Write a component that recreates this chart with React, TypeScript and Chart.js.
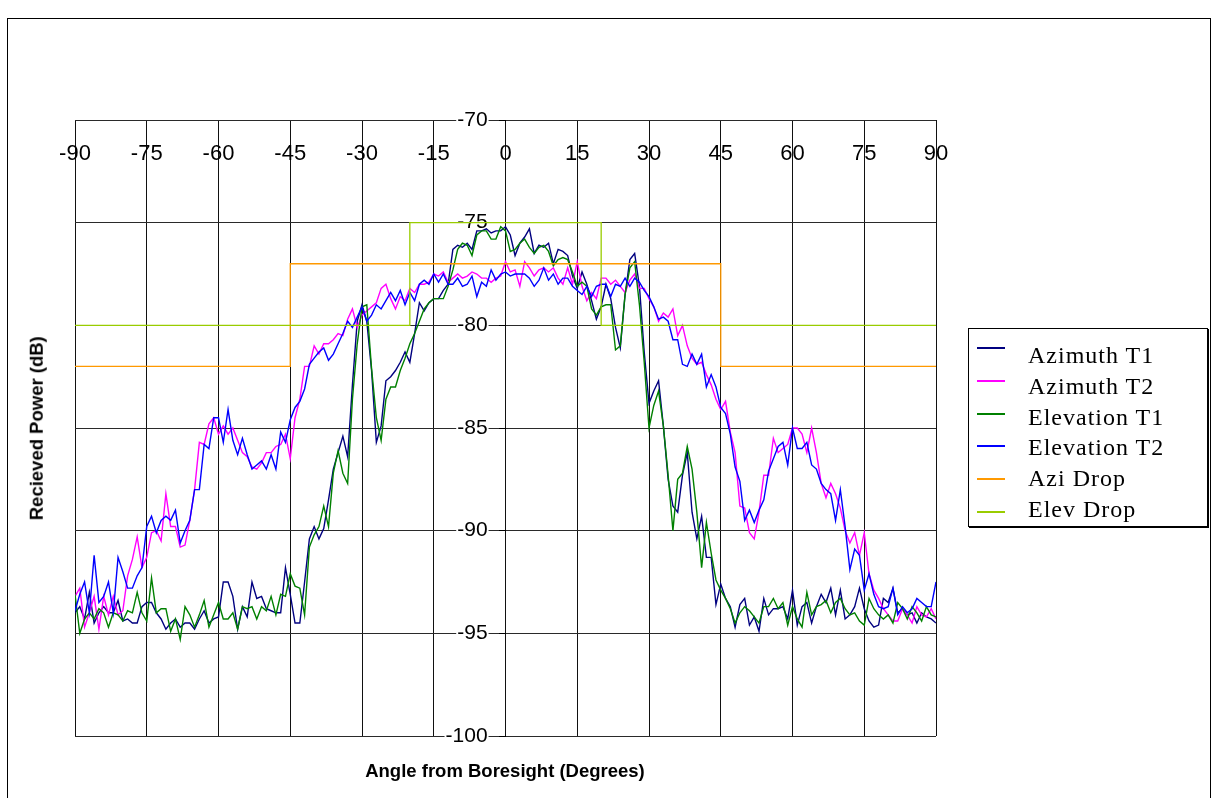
import React, { useEffect, useRef } from 'react';
import { Chart, registerables } from 'chart.js';

Chart.register(...registerables);

// Angle from boresight (degrees), 1 degree steps
const ANGLES = [
  -90, -89, -88, -87, -86, -85, -84, -83, -82, -81,
  -80, -79, -78, -77, -76, -75, -74, -73, -72, -71,
  -70, -69, -68, -67, -66, -65, -64, -63, -62, -61,
  -60, -59, -58, -57, -56, -55, -54, -53, -52, -51,
  -50, -49, -48, -47, -46, -45, -44, -43, -42, -41,
  -40, -39, -38, -37, -36, -35, -34, -33, -32, -31,
  -30, -29, -28, -27, -26, -25, -24, -23, -22, -21,
  -20, -19, -18, -17, -16, -15, -14, -13, -12, -11,
  -10, -9, -8, -7, -6, -5, -4, -3, -2, -1,
  0, 1, 2, 3, 4, 5, 6, 7, 8, 9,
  10, 11, 12, 13, 14, 15, 16, 17, 18, 19,
  20, 21, 22, 23, 24, 25, 26, 27, 28, 29,
  30, 31, 32, 33, 34, 35, 36, 37, 38, 39,
  40, 41, 42, 43, 44, 45, 46, 47, 48, 49,
  50, 51, 52, 53, 54, 55, 56, 57, 58, 59,
  60, 61, 62, 63, 64, 65, 66, 67, 68, 69,
  70, 71, 72, 73, 74, 75, 76, 77, 78, 79,
  80, 81, 82, 83, 84, 85, 86, 87, 88, 89,
  90,
];

const AZIMUTH_T1 = [
  -94.0, -93.7, -94.3, -93.0, -94.5, -94.0, -93.7, -94.0, -94.0, -93.4,
  -94.4, -94.3, -94.5, -94.5, -93.7, -93.5, -93.5, -94.0, -94.3, -94.8,
  -94.5, -94.3, -94.7, -94.5, -94.5, -94.8, -94.3, -93.9, -94.5, -94.3,
  -94.2, -92.5, -92.5, -93.2, -94.8, -93.7, -94.2, -92.5, -93.3, -93.2,
  -93.8, -93.9, -94.0, -94.0, -91.8, -93.1, -94.5, -94.5, -92.5, -90.4,
  -89.8, -90.4, -89.9, -88.5, -87.0, -86.2, -85.4, -86.4, -82.9, -79.8,
  -79.0, -79.8, -82.2, -85.7, -84.9, -82.7, -82.5, -82.2, -81.8, -81.3,
  -81.8, -80.4, -78.9, -79.3, -78.9, -78.7, -78.7, -78.3, -78.0, -76.3,
  -76.1, -76.2, -76.0, -76.3, -75.4, -75.4, -75.3, -75.5, -75.4, -75.4,
  -75.2, -75.6, -76.6, -76.0, -75.7, -75.3, -76.5, -76.1, -76.2, -76.0,
  -77.0, -76.3, -76.4, -76.6, -77.6, -78.2, -77.4, -78.0, -78.8, -79.7,
  -79.1, -78.0, -78.7, -80.1, -81.1, -78.5, -76.8, -76.5, -78.1, -81.3,
  -83.8, -83.2, -82.7, -84.9, -87.5, -88.8, -89.1, -87.3, -86.2, -89.1,
  -90.4, -89.3, -91.3, -91.3, -93.6, -92.6, -93.3, -93.7, -94.7, -93.6,
  -93.3, -94.6, -94.2, -94.9, -93.3, -94.1, -93.8, -93.8, -93.7, -94.3,
  -92.9, -94.6, -93.7, -93.5, -94.5, -93.7, -93.1, -93.5, -92.8, -94.1,
  -92.9, -94.3, -94.1, -93.7, -92.8, -93.8, -94.4, -94.7, -94.6, -93.3,
  -93.5, -92.8, -94.0, -93.8, -94.1, -94.0, -94.5, -94.0, -94.2, -94.3,
  -94.5,
];

const AZIMUTH_T2 = [
  -93.2, -92.8, -94.7, -94.0, -93.2, -94.8, -93.2, -94.1, -93.2, -94.1,
  -93.9, -92.2, -91.4, -90.3, -91.8, -91.3, -90.1, -90.0, -90.5, -88.2,
  -89.8, -89.8, -90.8, -90.7, -89.5, -88.0, -85.7, -85.8, -84.8, -84.5,
  -85.3, -84.9, -85.3, -85.0, -85.6, -86.2, -86.4, -86.9, -87.0, -86.7,
  -86.2, -86.2, -85.9, -85.8, -85.3, -86.5, -84.5, -83.6, -82.0, -82.0,
  -81.0, -81.4, -80.9, -80.9, -80.7, -80.4, -80.5, -79.7, -79.2, -80.1,
  -79.5, -79.3, -79.1, -78.9, -78.2, -78.0, -78.7, -79.2, -78.6, -78.8,
  -78.2, -78.4, -78.0, -78.0, -77.9, -77.5, -77.6, -77.4, -77.9, -77.7,
  -77.5, -77.7, -77.6, -77.4, -77.5, -77.7, -77.7, -77.9, -77.7, -77.6,
  -76.9, -77.4, -77.3, -78.1, -76.9, -77.2, -77.6, -77.3, -77.2, -77.4,
  -77.2, -77.7, -78.0, -77.2, -78.0, -76.9, -78.1, -78.8, -78.4, -78.7,
  -77.7, -77.7, -78.0, -77.8, -78.1, -78.4, -77.8, -77.5, -78.2, -78.2,
  -78.7, -79.1, -79.8, -79.4, -79.6, -79.2, -80.5, -80.0, -81.0, -81.6,
  -81.9, -81.8, -82.4, -82.9, -83.6, -84.1, -83.7, -85.2, -86.2, -88.8,
  -88.9, -90.1, -90.4, -89.1, -87.3, -87.3, -85.5, -86.2, -86.0, -85.8,
  -85.0, -85.0, -85.3, -86.2, -85.0, -86.2, -87.7, -88.4, -87.7, -88.2,
  -88.9, -90.0, -90.6, -90.1, -91.2, -90.1, -92.1, -92.9, -93.3, -93.8,
  -94.1, -94.4, -94.4, -93.8, -94.1, -94.5, -93.7, -94.1, -94.2, -93.8,
  -94.3,
];

const ELEVATION_T1 = [
  -93.1, -95.0, -94.3, -94.0, -94.3, -93.8, -94.0, -94.7, -94.0, -94.1,
  -94.4, -93.9, -94.0, -93.0, -94.0, -94.4, -92.3, -94.0, -93.8, -93.8,
  -94.9, -94.3, -95.3, -93.7, -94.1, -94.7, -94.1, -93.4, -94.7, -94.1,
  -93.5, -94.3, -94.3, -94.0, -94.8, -93.7, -93.8, -93.7, -94.3, -93.7,
  -93.9, -93.2, -94.1, -93.1, -93.2, -92.1, -92.7, -92.8, -94.1, -90.8,
  -90.2, -89.8, -88.8, -89.8, -87.2, -86.1, -87.2, -87.7, -83.6, -80.9,
  -79.1, -79.0, -82.1, -84.5, -85.6, -83.6, -83.0, -83.0, -82.2, -81.6,
  -80.9, -80.4, -79.8, -79.2, -78.9, -78.7, -78.7, -78.7, -78.1, -77.3,
  -76.3, -76.0, -76.1, -76.6, -75.6, -75.4, -75.4, -75.8, -75.8, -75.2,
  -75.4, -76.4, -76.3, -76.0, -75.8, -76.2, -76.5, -76.2, -76.1, -76.4,
  -77.1, -76.8, -76.7, -76.8, -77.4, -78.1, -77.9, -78.1, -79.2, -79.5,
  -79.1, -79.0, -79.0, -81.2, -81.0, -78.5, -77.2, -76.9, -79.0, -81.8,
  -85.0, -83.9, -83.2, -84.9, -87.3, -90.0, -87.5, -87.2, -85.9, -87.0,
  -89.1, -91.8, -89.6, -91.1, -92.4, -92.9, -93.3, -93.8, -94.5, -94.0,
  -93.7, -93.9, -94.2, -94.5, -93.7, -93.7, -93.3, -93.8, -93.5, -94.6,
  -93.7, -94.3, -94.7, -93.0, -94.1, -93.7, -93.6, -93.4, -94.0, -93.5,
  -93.3, -93.8, -94.1, -94.0, -94.4, -94.6, -93.3, -93.8, -94.1, -94.3,
  -94.1, -94.5, -93.5, -93.8, -94.3, -93.7, -94.0, -94.4, -93.7, -94.1,
  -94.2,
];

const ELEVATION_T2 = [
  -93.9, -93.1, -92.5, -94.0, -91.2, -93.5, -93.2, -92.5, -94.0, -91.3,
  -92.0, -92.8, -92.8, -92.2, -91.8, -89.8, -89.3, -90.1, -89.5, -89.3,
  -89.5, -89.0, -90.6, -90.0, -89.5, -88.0, -88.0, -85.8, -86.0, -84.5,
  -84.5, -85.7, -84.1, -85.6, -86.3, -85.5, -86.3, -87.0, -86.8, -86.6,
  -87.0, -86.3, -87.0, -85.2, -85.7, -84.6, -84.0, -83.7, -83.1, -81.9,
  -81.6, -81.3, -81.1, -81.7, -81.4, -80.9, -80.4, -79.8, -80.1, -79.6,
  -79.1, -79.8, -79.5, -79.0, -79.2, -78.8, -78.4, -78.8, -78.3, -79.0,
  -78.4, -78.8, -78.0, -77.8, -78.0, -77.5, -77.9, -77.5, -78.0, -78.0,
  -77.7, -78.1, -78.0, -77.6, -78.6, -77.9, -78.1, -77.3, -77.8, -77.5,
  -77.4, -77.6, -77.5, -77.5, -77.5, -77.7, -78.1, -77.8, -77.2, -77.8,
  -77.5, -78.0, -77.7, -77.7, -78.1, -78.3, -78.5, -78.1, -78.6, -78.1,
  -78.0, -78.0, -78.6, -78.0, -78.1, -77.7, -78.1, -77.7, -77.9, -78.3,
  -78.6, -79.1, -79.7, -79.6, -79.8, -80.7, -80.7, -81.9, -82.0, -81.4,
  -81.9, -81.4, -83.0, -82.4, -83.0, -84.0, -84.3, -85.3, -86.9, -87.6,
  -89.5, -89.0, -89.6, -89.0, -88.5, -87.1, -86.5, -85.9, -85.7, -86.8,
  -85.0, -86.0, -86.0, -85.7, -86.8, -87.0, -87.7, -88.0, -88.2, -89.5,
  -88.0, -89.8, -91.9, -90.9, -91.2, -92.9, -92.1, -93.1, -93.7, -93.8,
  -93.7, -92.8, -94.1, -93.7, -94.0, -93.8, -93.3, -93.5, -93.7, -93.7,
  -92.5,
];

const AZI_DROP_X = [-90, -45, -45, 45, 45, 90];
const AZI_DROP_Y = [-82, -82, -77, -77, -82, -82];
const ELEV_DROP_X = [-90, -20, -20, 20, 20, 90];
const ELEV_DROP_Y = [-80, -80, -75, -75, -80, -80];

const X_TICK_VALUES = [-90, -75, -60, -45, -30, -15, 0, 15, 30, 45, 60, 75, 90];
const Y_TICK_VALUES = [-100, -95, -90, -85, -80, -75, -70];

const SERIES_LABELS = ['Azimuth T1', 'Azimuth T2', 'Elevation T1', 'Elevation T2', 'Azi Drop', 'Elev Drop'];
const SERIES_COLORS = ['#000080', '#FF00FF', '#008000', '#0000FF', '#FF9900', '#99CC00'];

const X_TITLE = 'Angle from Boresight (Degrees)';
const Y_TITLE = 'Recieved Power (dB)';

const SANS = "'Liberation Sans', Arial, Helvetica, sans-serif";
const SERIF = "'Liberation Serif', 'Times New Roman', Times, serif";

export default function App() {
  const canvasRef = useRef<HTMLCanvasElement>(null);

  useEffect(() => {
    const canvas = canvasRef.current;
    if (!canvas) return;
    const toPoints = (xs: number[], ys: number[]) => xs.map((x, i) => ({ x, y: ys[i] }));
    const measured = [AZIMUTH_T1, AZIMUTH_T2, ELEVATION_T1, ELEVATION_T2];
    const datasets: any[] = measured.map((vals, i) => ({
      label: SERIES_LABELS[i],
      data: toPoints(ANGLES, vals),
      borderColor: SERIES_COLORS[i],
      backgroundColor: SERIES_COLORS[i],
      borderWidth: 1.4,
      pointRadius: 0,
      tension: 0,
      fill: false,
      order: 10 - i,
    }));
    datasets.push({
      label: SERIES_LABELS[4],
      data: toPoints(AZI_DROP_X, AZI_DROP_Y),
      borderColor: SERIES_COLORS[4],
      backgroundColor: SERIES_COLORS[4],
      borderWidth: 1.3,
      pointRadius: 0,
      tension: 0,
      fill: false,
      order: 5,
    });
    datasets.push({
      label: SERIES_LABELS[5],
      data: toPoints(ELEV_DROP_X, ELEV_DROP_Y),
      borderColor: SERIES_COLORS[5],
      backgroundColor: SERIES_COLORS[5],
      borderWidth: 1.3,
      pointRadius: 0,
      tension: 0,
      fill: false,
      order: 4,
    });

    const yTicks = (scale: any) => {
      scale.ticks = Y_TICK_VALUES.map((v) => ({ value: v }));
    };

    const chart = new Chart(canvas, {
      type: 'line',
      data: { datasets },
      options: {
        animation: false,
        responsive: false,
        devicePixelRatio: 1,
        events: [],
        layout: { padding: { left: 75, top: 120, right: 276, bottom: 62 } },
        plugins: {
          legend: { display: false },
          tooltip: { enabled: false },
          title: { display: false },
        },
        scales: {
          x: {
            type: 'linear',
            min: -90,
            max: 90,
            position: { y: -71 } as any,
            afterBuildTicks: (scale: any) => {
              scale.ticks = X_TICK_VALUES.map((v) => ({ value: v }));
            },
            ticks: {
              font: { family: SANS, size: 22 },
              color: '#000',
              padding: 0,
              maxRotation: 0,
              minRotation: 0,
              autoSkip: false,
            },
            grid: { color: '#111', lineWidth: 1, drawTicks: false },
            border: { display: false },
          },
          y: {
            type: 'linear',
            min: -100,
            max: -70,
            position: { x: -3.75 } as any,
            afterBuildTicks: yTicks,
            ticks: {
              font: { family: SANS, size: 21 },
              color: '#000',
              padding: 0,
              showLabelBackdrop: true,
              backdropColor: '#fff',
              backdropPadding: 1,
            } as any,
            grid: { color: '#2a2a2a', lineWidth: 1, drawTicks: false },
            border: { display: false },
          },
          yMarks: {
            type: 'linear',
            axis: 'y',
            min: -100,
            max: -70,
            position: { x: 0 } as any,
            afterBuildTicks: yTicks,
            ticks: { display: false },
            grid: {
              color: '#000',
              lineWidth: 1,
              drawOnChartArea: false,
              drawTicks: true,
              tickLength: 7,
            },
            border: { display: false },
          } as any,
        },
      },
    });
    return () => chart.destroy();
  }, []);

  const sampleTop0 = 347;
  const sampleStride = 32.8;
  const baseline0 = 363.3;
  const textStride = 30.7;
  const legendFont = 24;

  return (
    <div
      style={{
        position: 'absolute',
        left: 0,
        top: 0,
        width: 1212,
        height: 798,
        overflow: 'hidden',
        background: '#fff',
      }}
    >
      <div
        style={{
          position: 'absolute',
          left: 7,
          top: 18,
          width: 1204,
          height: 800,
          border: '1px solid #000',
          boxSizing: 'border-box',
        }}
      />
      <canvas
        ref={canvasRef}
        width={1212}
        height={798}
        style={{ position: 'absolute', left: 0, top: 0, width: 1212, height: 798 }}
      />
      <div
        style={{
          position: 'absolute',
          left: 305,
          top: 762.3,
          width: 400,
          height: 18.5,
          lineHeight: '18.5px',
          fontSize: 18.5,
          fontWeight: 'bold',
          fontFamily: SANS,
          textAlign: 'center',
          whiteSpace: 'nowrap',
          color: '#000',
        }}
      >
        {X_TITLE}
      </div>
      <div
        style={{
          position: 'absolute',
          left: 36.9 - 150,
          top: 428.5 - 9.25,
          width: 300,
          height: 18.5,
          lineHeight: '18.5px',
          fontSize: 18.5,
          fontWeight: 'bold',
          fontFamily: SANS,
          textAlign: 'center',
          whiteSpace: 'nowrap',
          color: '#000',
          transform: 'rotate(-90deg)',
          transformOrigin: '50% 50%',
        }}
      >
        {Y_TITLE}
      </div>
      <div
        style={{
          position: 'absolute',
          left: 968,
          top: 328,
          width: 240,
          height: 199,
          border: '1px solid #000',
          boxSizing: 'border-box',
          boxShadow: '1px 1px 0 #000',
          background: '#fff',
        }}
      />
      {SERIES_LABELS.map((label, i) => (
        <React.Fragment key={label}>
          <div
            style={{
              position: 'absolute',
              left: 977,
              top: sampleTop0 + i * sampleStride,
              width: 28,
              height: 2,
              background: SERIES_COLORS[i],
            }}
          />
          <div
            style={{
              position: 'absolute',
              left: 1028,
              top: baseline0 + i * textStride - 0.8375 * legendFont,
              height: legendFont,
              lineHeight: `${legendFont}px`,
              fontSize: legendFont,
              fontFamily: SERIF,
              letterSpacing: '1px',
              whiteSpace: 'nowrap',
              color: '#000',
            }}
          >
            {label}
          </div>
        </React.Fragment>
      ))}
    </div>
  );
}
